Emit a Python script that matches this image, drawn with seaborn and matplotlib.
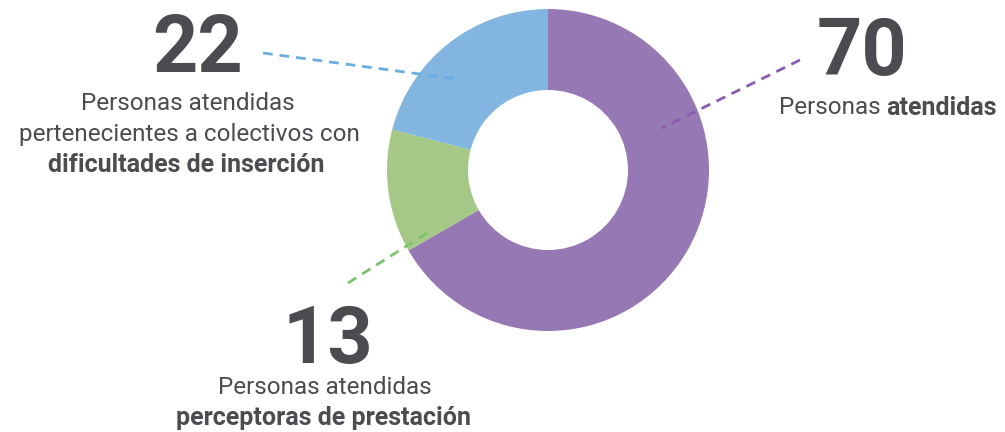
import seaborn as sns
import matplotlib.pyplot as plt

# datos del gráfico
labels = ['atendidas', 'perceptoras de prestación', 'dificultades de inserción']
values = [70, 13, 22]
colors = ['#9678b4', '#a5c887', '#82b6e1']
line_colors = ['#8a5cb0', '#7cc46a', '#6aaee0']

sns.set_theme(style='white')
plt.rcParams['font.family'] = ['Roboto', 'DejaVu Sans']

TXT = '#4b4c50'

fig = plt.figure(figsize=(10.05, 4.32), dpi=100)
ax = fig.add_axes([0, 0, 1, 1])

# coordenadas en píxeles (y hacia arriba)
cx, cy, r = 548, 432 - 170, 161
ax.pie(values, colors=colors, startangle=90, counterclock=False,
       center=(cx, cy), radius=r,
       wedgeprops=dict(width=81, linewidth=0))
ax.set_xlim(0, 1005)
ax.set_ylim(0, 432)
ax.set_aspect('equal')
ax.axis('off')


def Y(y):
    return 432 - y


# líneas guía
ax.plot([800, 662], [Y(60), Y(128)], ls=(0, (3.5, 2.5)), lw=2, color=line_colors[0])
ax.plot([348, 427], [Y(283), Y(233)], ls=(0, (3.5, 2.5)), lw=2, color=line_colors[1])
ax.plot([263, 457], [Y(53), Y(79)], ls=(0, (3.5, 2.5)), lw=2, color=line_colors[2])

big = dict(fontsize=57, fontweight='bold', color=TXT, ha='center', va='center')

ax.text(862, Y(54), str(values[0]), **big)
ax.text(328, Y(341), str(values[1]), **big)
ax.text(198, Y(50), str(values[2]), **big)

fig.canvas.draw()
renderer = fig.canvas.get_renderer()


def mixed(x_center, y, parts):
    # dibuja una línea con partes normales y en negrita, centrada en x_center
    objs = []
    for txt, w in parts:
        fs = 18 if w == 'bold' else 17.5
        objs.append(ax.text(0, Y(y), txt, fontweight=w, fontsize=fs,
                            color=TXT, ha='left', va='center'))
    widths = [t.get_window_extent(renderer).width for t in objs]
    x = x_center - sum(widths) / 2
    for t, w in zip(objs, widths):
        t.set_x(x)
        x += w


mixed(888, 108, [('Personas ', 'normal'), ('atendidas', 'bold')])
mixed(188, 103, [('Personas atendidas', 'normal')])
mixed(189, 134, [('pertenecientes a colectivos con', 'normal')])
mixed(186, 165, [(labels[2], 'bold')])
mixed(325, 388, [('Personas atendidas', 'normal')])
mixed(323, 418, [(labels[1], 'bold')])

fig.savefig('out.png', dpi=100, facecolor='white')
